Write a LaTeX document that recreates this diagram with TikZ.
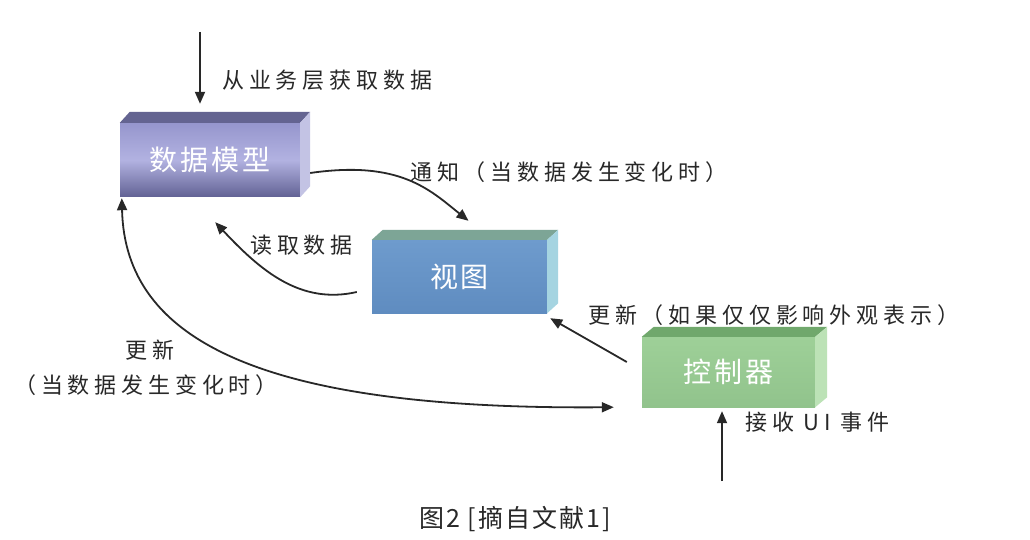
\documentclass[tikz,border=0pt]{standalone}
\usepackage{fontspec}
\newfontfamily\cjk[LetterSpace=22]{Noto Sans CJK SC}
\newfontfamily\cjkbox[LetterSpace=10]{Noto Sans CJK SC}
\newfontfamily\cjkcap[LetterSpace=8]{Noto Sans CJK SC}
\usetikzlibrary{arrows.meta,calc}
\definecolor{mTop}{RGB}{100,100,145}
\definecolor{mSide}{RGB}{195,195,228}
\definecolor{mA}{RGB}{150,150,205}
\definecolor{mB}{RGB}{178,178,225}
\definecolor{mC}{RGB}{98,98,148}
\definecolor{vTop}{RGB}{125,165,150}
\definecolor{vSide}{RGB}{165,212,225}
\definecolor{vA}{RGB}{110,155,205}
\definecolor{vC}{RGB}{95,140,192}
\definecolor{cTop}{RGB}{112,168,108}
\definecolor{cSide}{RGB}{188,226,182}
\definecolor{cA}{RGB}{158,208,152}
\definecolor{cC}{RGB}{145,195,140}
\definecolor{ink}{RGB}{40,40,40}
\newcommand\boxfaces[5]{%
  \fill[#2] (#1.north west) -- ++(#4,#5) -- ($(#1.north east)+(#4,#5)$) -- (#1.north east) -- cycle;
  \fill[#3] (#1.north east) -- ++(#4,#5) -- ($(#1.south east)+(#4,#5)$) -- (#1.south east) -- cycle;}
\begin{document}
\begin{tikzpicture}[x=1pt,y=-1pt,
  boxfront/.style={inner sep=0pt, text=white, font=\cjkbox\fontsize{28}{32}\selectfont},
  lbl/.style={inner sep=0pt, text=ink, font=\cjk\fontsize{22}{26}\selectfont},
  arr/.style={draw=ink, line width=1.8pt, -{Triangle[length=12pt,width=10pt]}},
  darr/.style={draw=ink, line width=1.8pt, {Triangle[length=12pt,width=10pt]}-{Triangle[length=12pt,width=10pt]}}]
\fill[white] (0,0) rectangle (1030,540);
\useasboundingbox (0,0) rectangle (1030,540);

% boxes
\node[boxfront, minimum width=180pt, minimum height=74pt, top color=mA, bottom color=mC, middle color=mB] (model) at (210,160) {数据模型};
\boxfaces{model}{mTop}{mSide}{10}{-11}
\node[boxfront, minimum width=175pt, minimum height=73pt, top color=vA, bottom color=vC] (view) at (459.5,276.5) {视图};
\boxfaces{view}{vTop}{vSide}{11}{-10}
\node[boxfront, minimum width=173pt, minimum height=70pt, top color=cA, bottom color=cC] (ctrl) at (728.5,372) {控制器};
\boxfaces{ctrl}{cTop}{cSide}{12}{-10}

% labels
\node[lbl, anchor=west] (lget) at (222,80) {从业务层获取数据};
\node[lbl, anchor=west] (lnotify) at (410,172) {通知（当数据发生变化时）};
\node[lbl, anchor=west] (lread) at (250,245) {读取数据};
\node[lbl, anchor=west] (lupd) at (588,315) {更新（如果仅仅影响外观表示）};
\node[lbl] (lupd2a) at (150,350) {更新};
\node[lbl] (lupd2b) at (146,385) {（当数据发生变化时）};
\node[lbl, anchor=west] (lui) at (745,422) {接收 UI 事件};
\node[inner sep=0pt, text=ink, font=\cjkcap\fontsize{25}{29}\selectfont] (cap) at (515,519) {图2 [摘自文献1]};

% connectors
\coordinate (topsrc) at (200,32);
\draw[arr] (topsrc) -- ([yshift=19pt]model.north -| topsrc);
\draw[arr] ([xshift=10pt,yshift=-13pt]model.east) .. controls (400,160) and (430,190) .. ([xshift=9pt,yshift=19pt]view.north);
\draw[arr] ([xshift=-15pt,yshift=-15.5pt]view.west) .. controls (300,305) and (260,270) .. ([xshift=-85pt,yshift=-25pt]model.south east);
\draw[arr] ([xshift=-15pt,yshift=10pt]ctrl.west) -- ([xshift=3pt,yshift=-5pt]view.south east);
\draw[darr] ([xshift=2pt,yshift=-1pt]model.south west) .. controls (125,340) and (260,410) .. ([xshift=-28pt]ctrl.south west);
\coordinate (uisrc) at (722,481);
\draw[arr] (uisrc) -- ([yshift=-4pt]ctrl.south -| uisrc);
\end{tikzpicture}
\end{document}
